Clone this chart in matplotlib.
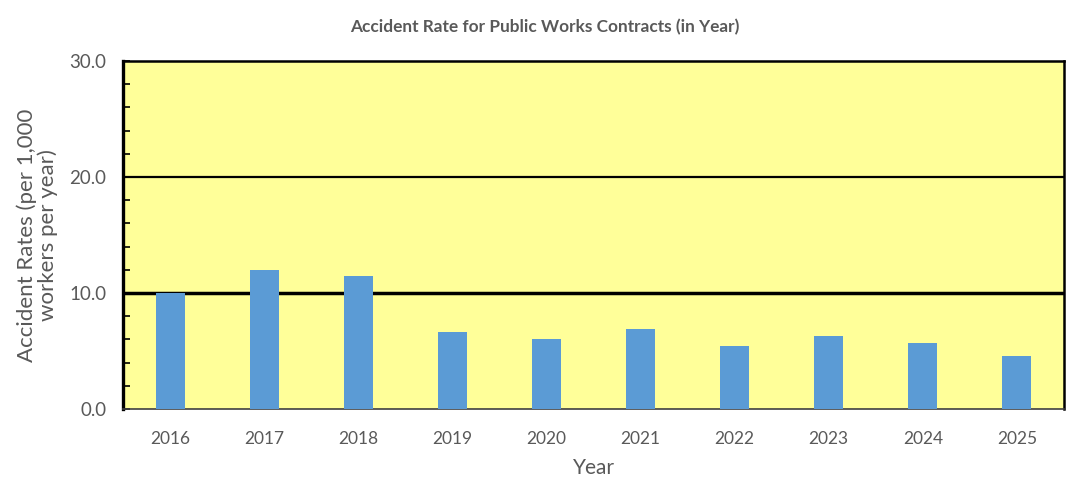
import matplotlib
matplotlib.use("Agg")
import matplotlib.pyplot as plt
from matplotlib.ticker import MultipleLocator

years = ["2016", "2017", "2018", "2019", "2020", "2021", "2022", "2023", "2024", "2025"]
rates = [10.0, 12.0, 11.5, 6.6, 6.0, 6.9, 5.4, 6.3, 5.7, 4.6]

plt.rcParams['font.family'] = ['Lato', 'DejaVu Sans']
grey = '#595959'

fig = plt.figure(figsize=(10.89, 5.0), dpi=100)
ax = fig.add_axes([0.113, 0.182, 0.864, 0.696])
ax.set_facecolor('#FFFF99')

x = list(range(len(years)))
ax.bar(x, rates, width=0.31, color='#5B9BD5', zorder=3)
ax.set_xlim(-0.5, len(years) - 0.5)
ax.set_ylim(0, 30)

ax.axhline(10, color='black', lw=2.5, zorder=2)
ax.axhline(20, color='black', lw=1.6, zorder=2)

ax.set_xticks(x)
ax.set_xticklabels(years)
ax.yaxis.set_major_locator(MultipleLocator(10))
ax.yaxis.set_minor_locator(MultipleLocator(2))
ax.set_yticklabels([f"{v:.1f}" for v in ax.get_yticks()])
ax.tick_params(axis='y', which='both', direction='in', length=5, width=1.2,
               colors='black', labelcolor=grey, labelsize=13.5, pad=12)
ax.tick_params(axis='x', length=0, labelcolor=grey, labelsize=12.5, pad=16)

ax.spines['left'].set_linewidth(2.4)
for s in ['top', 'right']:
    ax.spines[s].set_linewidth(1.8)
ax.spines['bottom'].set_linewidth(1.2)
ax.spines['bottom'].set_color('#404040')

ax.set_xlabel("Year", fontsize=15, color=grey, labelpad=8)
ax.set_ylabel("Accident Rates (per 1,000\nworkers per year)", fontsize=16,
              color=grey, labelpad=8, linespacing=1.05)
fig.text(0.5, 0.945, "Accident Rate for Public Works Contracts (in Year)",
         ha='center', va='center', fontsize=12.4, fontweight='bold', color=grey)

fig.savefig("out.png", dpi=100)
